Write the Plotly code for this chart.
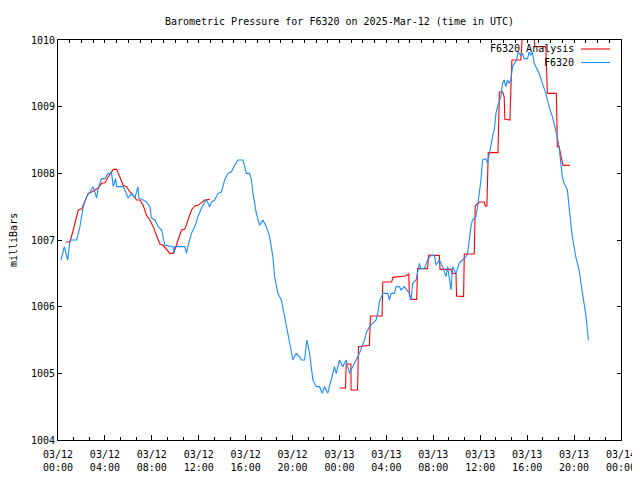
import pandas as pd
import plotly.graph_objects as go

# Hours since 2025-03-12 00:00 UTC, and pressure in millibars
station_hours = [0.26, 0.54, 0.83, 1.02, 1.59, 1.87, 2.15, 2.44, 2.72, 3.00, 3.29, 3.43, 3.72, 4.00,
                 4.28, 4.57, 4.71, 4.91, 5.00, 5.56, 5.70, 5.98, 6.27, 6.55, 6.83, 6.89, 7.26, 7.55,
                 7.83, 7.97, 8.26, 8.54, 8.83, 9.11, 9.81, 9.90, 9.96, 10.81, 10.95, 11.09, 11.38,
                 11.66, 11.94, 12.23, 12.51, 12.66, 12.94, 13.08, 13.36, 13.64, 13.93, 14.21, 14.49,
                 14.78, 15.06, 15.34, 15.77, 16.06, 16.34, 16.49, 16.62, 16.77, 16.91, 17.19, 17.47,
                 17.76, 18.04, 18.32, 18.47, 18.75, 19.04, 19.32, 19.60, 19.89, 20.03, 20.31, 20.60,
                 20.74, 21.02, 21.22, 21.45, 21.59, 21.73, 22.02, 22.30, 22.53, 22.72, 23.00, 23.29,
                 23.57, 23.72, 24.00, 24.28, 24.57, 24.85, 25.13, 25.42, 25.70, 26.13, 26.27, 26.55,
                 26.83, 27.12, 27.26, 27.40, 27.69, 28.11, 28.26, 28.40, 28.68, 28.83, 29.11, 29.25,
                 29.53, 29.96, 30.10, 30.24, 30.53, 30.66, 30.81, 30.95, 31.23, 31.51, 31.80, 32.09,
                 32.23, 32.51, 32.79, 33.08, 33.22, 33.51, 33.64, 33.93, 34.21, 34.49, 34.78, 34.92,
                 35.06, 35.21, 35.34, 35.63, 35.77, 35.91, 36.06, 36.20, 36.49, 36.62, 36.77, 36.91,
                 37.05, 37.19, 37.34, 37.47, 37.76, 37.90, 38.04, 38.19, 38.32, 38.47, 38.61, 38.75,
                 38.89, 39.09, 39.23, 39.46, 39.60, 39.74, 40.03, 40.17, 40.31, 40.45, 40.60, 40.74,
                 41.02, 41.30, 41.59, 41.87, 42.15, 42.43, 42.72, 42.87, 43.00, 43.15, 43.43, 43.57,
                 43.85, 44.14, 44.43, 44.71, 44.99, 45.22]
station_mb = [1006.70, 1006.90, 1006.70, 1007.00, 1007.00, 1007.20, 1007.50, 1007.65, 1007.72, 1007.80,
              1007.63, 1007.78, 1007.92, 1007.92, 1008.00, 1008.00, 1007.80, 1007.92, 1007.80, 1007.80,
              1007.75, 1007.63, 1007.70, 1007.63, 1007.80, 1007.63, 1007.60, 1007.57, 1007.50, 1007.33,
              1007.30, 1007.20, 1007.15, 1006.92, 1006.90, 1006.80, 1006.90, 1006.90, 1006.80, 1006.92,
              1007.10, 1007.20, 1007.35, 1007.48, 1007.57, 1007.60, 1007.50, 1007.57, 1007.60, 1007.70,
              1007.72, 1007.90, 1008.00, 1008.02, 1008.12, 1008.20, 1008.20, 1008.00, 1008.00, 1007.90,
              1007.70, 1007.55, 1007.40, 1007.22, 1007.30, 1007.20, 1007.05, 1006.75, 1006.45, 1006.20,
              1006.10, 1005.85, 1005.60, 1005.30, 1005.20, 1005.30, 1005.25, 1005.20, 1005.20, 1005.50,
              1005.30, 1005.10, 1004.90, 1004.80, 1004.80, 1004.70, 1004.80, 1004.70, 1004.90, 1005.10,
              1005.00, 1005.20, 1005.10, 1005.20, 1005.00, 1005.10, 1005.20, 1005.30, 1005.50, 1005.60,
              1005.70, 1005.75, 1005.80, 1005.90, 1006.07, 1006.20, 1006.20, 1006.10, 1006.20, 1006.20,
              1006.30, 1006.30, 1006.25, 1006.30, 1006.20, 1006.10, 1006.35, 1006.40, 1006.50, 1006.65,
              1006.57, 1006.57, 1006.70, 1006.77, 1006.77, 1006.62, 1006.70, 1006.60, 1006.45, 1006.60,
              1006.25, 1006.60, 1006.50, 1006.65, 1006.70, 1006.75, 1006.80, 1007.00, 1007.20, 1007.30,
              1007.35, 1007.50, 1007.70, 1007.90, 1008.20, 1008.22, 1008.15, 1008.30, 1008.45, 1008.55,
              1008.65, 1008.90, 1009.00, 1009.15, 1009.35, 1009.40, 1009.30, 1009.40, 1009.35, 1009.40,
              1009.60, 1009.65, 1009.70, 1009.82, 1009.77, 1009.80, 1009.72, 1009.72, 1009.82, 1009.77,
              1009.82, 1009.65, 1009.60, 1009.50, 1009.35, 1009.20, 1009.00, 1008.85, 1008.65, 1008.40,
              1008.15, 1007.95, 1007.85, 1007.75, 1007.50, 1007.05, 1006.75, 1006.55, 1006.20, 1005.90,
              1005.50]

analysis_hours = [0.68, 1.02, 1.30, 1.59, 1.73, 2.02, 2.30, 2.58, 2.87, 3.15, 3.43, 3.72, 4.00, 4.28,
                  4.57, 4.71, 5.00, 5.28, 5.56, 5.85, 6.13, 6.41, 6.70, 6.98, 7.26, 7.55, 7.83, 8.11,
                  8.40, 8.68, 8.96, 9.25, 9.53, 9.81, 9.96, 10.24, 10.53, 10.81, 11.09, 11.38, 11.66,
                  11.94, 12.23, 12.51, 12.94, None,
                  24.00, 24.51, 24.57, 24.85, 24.97, 24.99, 25.54, 25.62, 26.27, 26.55, 26.64, 27.63,
                  27.69, 28.45, 28.54, 29.62, 29.90, 29.96, 30.10, 30.58, 30.66, 31.51, 31.60, 32.51,
                  32.57, 33.51, 33.59, 33.93, 33.98, 34.58, 34.64, 35.49, 35.57, 35.91, 36.34, 36.43,
                  36.57, 36.68, 37.51, 37.57, 37.63, 37.90, 38.04, 38.10, 38.53, 38.61, 38.70, 39.46,
                  39.60, 40.54, 40.66, 41.59, 41.64, 41.72, 42.49, 42.57, 42.72, 42.92, 43.06, 43.63]
analysis_mb = [1006.97, 1006.97, 1007.15, 1007.33, 1007.45, 1007.47, 1007.60, 1007.70, 1007.72, 1007.75,
               1007.78, 1007.85, 1007.86, 1007.95, 1008.02, 1008.06, 1008.06, 1007.95, 1007.82, 1007.80,
               1007.72, 1007.67, 1007.60, 1007.60, 1007.52, 1007.37, 1007.30, 1007.20, 1007.05, 1006.94,
               1006.92, 1006.85, 1006.80, 1006.80, 1006.85, 1007.00, 1007.15, 1007.16, 1007.30, 1007.45,
               1007.51, 1007.52, 1007.56, 1007.60, 1007.61, None,
               1004.78, 1004.78, 1005.14, 1005.14, 1005.14, 1004.75, 1004.75, 1005.40, 1005.42, 1005.42,
               1005.86, 1005.86, 1006.37, 1006.37, 1006.44, 1006.46, 1006.49, 1006.18, 1006.11, 1006.11,
               1006.57, 1006.57, 1006.77, 1006.77, 1006.56, 1006.56, 1006.50, 1006.50, 1006.16, 1006.15,
               1006.79, 1006.79, 1007.51, 1007.57, 1007.57, 1007.51, 1007.51, 1008.31, 1008.31, 1008.65,
               1009.22, 1009.22, 1009.15, 1008.81, 1008.80, 1009.25, 1009.70, 1009.70, 1010.10, 1010.10,
               1009.90, 1009.90, 1009.55, 1009.20, 1009.20, 1008.40, 1008.40, 1008.20, 1008.12, 1008.12]

x_tick_hours = [0, 4, 8, 12, 16, 20, 24, 28, 32, 36, 40, 44, 48]
y_ticks = [1004, 1005, 1006, 1007, 1008, 1009, 1010]

base = pd.Timestamp("2025-03-12 00:00")


def to_time(hours):
    return [None if h is None else base + pd.Timedelta(hours=h) for h in hours]


tick_times = to_time(x_tick_hours)
tick_text = [t.strftime("%m/%d<br>%H:%M") for t in tick_times]

FONT = "DejaVu Sans Mono"
RED = "#ff0000"
BLUE = "#1a8cff"
LW = 1.1

# The page body adds an 8px offset, so the figure is sized to fill the rest of the window.
OFF = 8
FIG_W, FIG_H = 640 - OFF, 480 - OFF
PL, PR, PT, PB = 58, 621, 40, 440  # plot box in window pixels
plot_w = PR - PL
plot_h = PB - PT

fig = go.Figure()
fig.add_trace(go.Scatter(x=to_time(analysis_hours), y=analysis_mb, mode="lines",
                         line=dict(color=RED, width=LW), name="F6320 Analysis",
                         connectgaps=False))
fig.add_trace(go.Scatter(x=to_time(station_hours), y=station_mb, mode="lines",
                         line=dict(color=BLUE, width=LW), name="F6320"))

x_range = [tick_times[0], tick_times[-1]]

fig.update_layout(
    width=FIG_W, height=FIG_H,
    margin=dict(l=PL - OFF, r=FIG_W - (PR - OFF), t=PT - OFF, b=FIG_H - (PB - OFF), pad=0),
    paper_bgcolor="white", plot_bgcolor="white",
    showlegend=False,
    font=dict(family=FONT, size=10, color="black"),
    title=dict(text="Barometric Pressure for F6320 on 2025-Mar-12 (time in UTC)",
               x=0.5, xref="paper", xanchor="center",
               y=1 - (21 - OFF) / FIG_H, yref="container", yanchor="middle",
               font=dict(family=FONT, size=10, color="black")),
    xaxis=dict(type="date", range=x_range, tickvals=tick_times, ticktext=tick_text,
               automargin=False, ticklabelstandoff=5,
               ticks="inside", ticklen=5, tickcolor="black", showline=True, linecolor="black",
               linewidth=1, mirror=True, showgrid=False, zeroline=False,
               minor=dict(dtick=80 * 60 * 1000, tick0=tick_times[0], ticks="inside",
                          ticklen=3, tickcolor="black", showgrid=False),
               tickfont=dict(family=FONT, size=10, color="black")),
    xaxis2=dict(type="date", range=x_range, overlaying="x", side="top", automargin=False,
                showticklabels=False, dtick=3600 * 1000, tick0=tick_times[0],
                ticks="inside", ticklen=3, tickcolor="black", showgrid=False,
                showline=False, zeroline=False),
    yaxis=dict(range=[1004, 1010], tickvals=y_ticks, ticks="inside", ticklen=4,
               automargin=False,
               tickcolor="black", showline=True, linecolor="black", linewidth=1,
               mirror="ticks", showgrid=False, zeroline=False,
               tickfont=dict(family=FONT, size=10, color="black")),
)

# empty trace so the top (hourly tick) axis is drawn
fig.add_trace(go.Scatter(x=x_range, y=[None, None], xaxis="x2", mode="lines",
                         showlegend=False, hoverinfo="skip"))

fig.add_annotation(text="milliBars", xref="paper", yref="paper",
                   x=(13 - PL) / plot_w, y=0.5, textangle=-90, showarrow=False,
                   xanchor="center", yanchor="middle", borderpad=0,
                   font=dict(family=FONT, size=10))

legend_items = [("F6320 Analysis", RED, 49), ("F6320", BLUE, 62.5)]
for label, color, ypix in legend_items:
    yp = 1 - (ypix - PT) / plot_h
    fig.add_annotation(text=label, xref="paper", yref="paper", x=(576 - PL) / plot_w, y=yp,
                       xanchor="right", yanchor="middle", showarrow=False,
                       font=dict(family=FONT, size=10, color="black"))
    fig.add_shape(type="line", xref="paper", yref="paper",
                  x0=(581 - PL) / plot_w, x1=(610 - PL) / plot_w, y0=yp, y1=yp,
                  line=dict(color=color, width=LW))

fig.write_html("out.html")
